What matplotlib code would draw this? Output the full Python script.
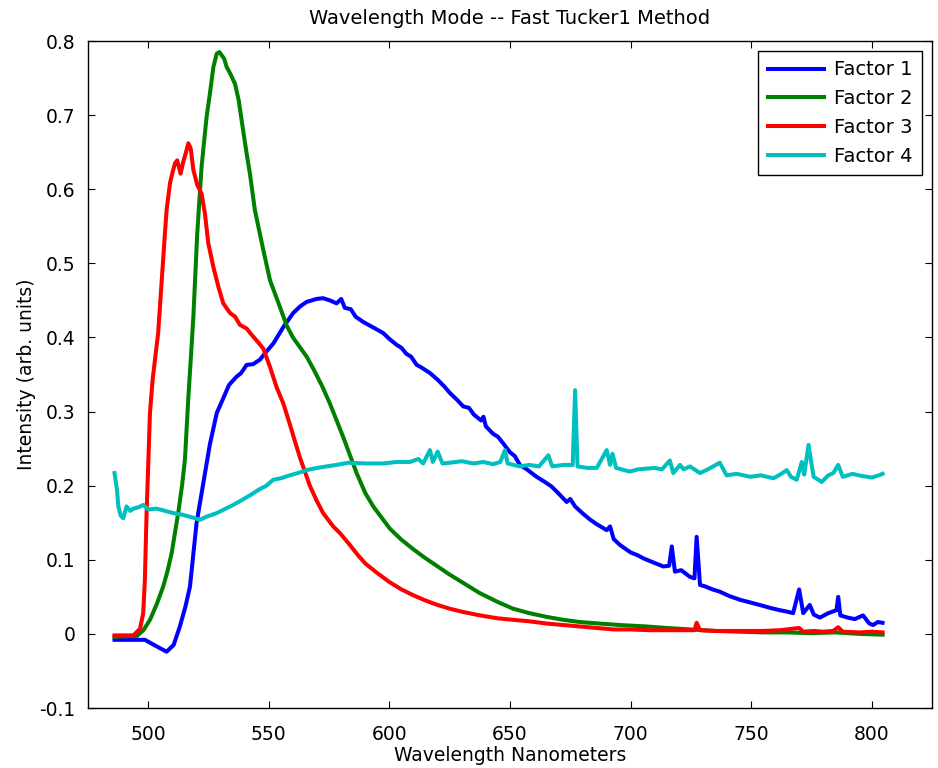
import matplotlib.pyplot as plt

plt.rcParams["font.family"] = ["DejaVu Sans"]

# Factor 1 (blue)
wl_f1 = [486.0, 493.0, 498.6, 503.0, 507.6, 510.5, 513.1, 515.5, 517.3, 520.0,
         522.8, 525.5, 528.4, 531.1, 533.5, 536.6, 538.5, 540.8, 543.5, 546.3,
         549.0, 551.9, 556.0, 560.1, 563.0, 565.7, 569.8, 572.5, 575.3, 578.1,
         580.0, 581.5, 584.0, 586.0, 589.1, 593.0, 597.4, 600.0, 603.0, 605.0,
         607.0, 609.0, 611.3, 613.0, 616.8, 620.0, 623.0, 625.1, 628.0, 630.6,
         633.0, 635.0, 638.0, 639.0, 640.0, 643.0, 645.0, 647.2, 650.0, 652.0,
         654.1, 657.0, 661.0, 664.0, 667.2, 670.0, 673.5, 675.0, 677.0, 680.0,
         683.3, 686.0, 690.1, 691.5, 693.0, 695.6, 700.0, 703.0, 705.3, 709.0,
         713.6, 716.0, 717.1, 718.4, 721.0, 724.6, 726.5, 727.4, 728.8, 731.0,
         734.0, 737.0, 741.0, 745.4, 749.0, 753.6, 758.0, 761.9, 765.0, 767.4,
         769.9, 771.6, 774.3, 776.0, 778.5, 782.0, 785.4, 786.1, 787.0, 790.0,
         793.0, 796.4, 799.0, 800.6, 802.5, 804.5]
int_f1 = [-0.008, -0.008, -0.008, -0.016, -0.024, -0.015, 0.010, 0.038, 0.064, 0.149,
          0.203, 0.255, 0.298, 0.318, 0.336, 0.347, 0.352, 0.363, 0.364, 0.370,
          0.381, 0.392, 0.414, 0.433, 0.442, 0.448, 0.452, 0.453, 0.450, 0.446,
          0.452, 0.440, 0.438, 0.428, 0.421, 0.414, 0.406, 0.398, 0.390, 0.386,
          0.378, 0.374, 0.363, 0.360, 0.352, 0.343, 0.333, 0.325, 0.316, 0.307,
          0.305, 0.296, 0.288, 0.293, 0.280, 0.270, 0.266, 0.257, 0.245, 0.240,
          0.228, 0.222, 0.212, 0.206, 0.199, 0.190, 0.178, 0.182, 0.172, 0.163,
          0.154, 0.148, 0.140, 0.145, 0.128, 0.120, 0.110, 0.106, 0.102, 0.097,
          0.091, 0.092, 0.118, 0.084, 0.086, 0.077, 0.075, 0.131, 0.066, 0.064,
          0.060, 0.057, 0.051, 0.046, 0.043, 0.039, 0.035, 0.032, 0.030, 0.028,
          0.060, 0.028, 0.039, 0.026, 0.022, 0.028, 0.032, 0.050, 0.025, 0.022,
          0.020, 0.025, 0.014, 0.012, 0.016, 0.015]

# Factor 2 (green)
wl_f2 = [486.0, 492.0, 495.2, 498.0, 500.7, 503.5, 506.2, 508.0, 509.7, 511.0,
         512.4, 514.0, 515.2, 516.6, 517.8, 518.7, 520.3, 522.1, 524.2, 525.6,
         527.0, 528.4, 529.5, 530.4, 531.5, 532.5, 534.0, 536.0, 537.5, 539.4,
         540.8, 542.2, 544.2, 547.7, 550.5, 554.6, 557.4, 560.0, 565.7, 568.4,
         572.0, 575.3, 580.8, 586.4, 590.0, 593.3, 600.2, 605.0, 610.0, 615.0,
         620.0, 625.0, 630.0, 637.5, 645.0, 651.3, 658.0, 665.2, 672.0, 679.0,
         687.0, 695.6, 706.6, 715.0, 725.0, 735.0, 745.0, 755.0, 765.0, 775.0,
         785.0, 795.0, 804.5]
int_f2 = [-0.004, -0.003, -0.003, 0.005, 0.019, 0.040, 0.064, 0.085, 0.109, 0.135,
          0.163, 0.200, 0.235, 0.318, 0.380, 0.428, 0.540, 0.630, 0.698, 0.730,
          0.765, 0.783, 0.785, 0.781, 0.776, 0.765, 0.756, 0.742, 0.720, 0.678,
          0.648, 0.620, 0.572, 0.518, 0.477, 0.441, 0.416, 0.400, 0.374, 0.358,
          0.335, 0.311, 0.266, 0.217, 0.190, 0.172, 0.142, 0.127, 0.114, 0.102,
          0.091, 0.080, 0.070, 0.055, 0.043, 0.034, 0.028, 0.023, 0.019, 0.016,
          0.014, 0.012, 0.010, 0.008, 0.006, 0.004, 0.003, 0.002, 0.002, 0.001,
          0.002, 0.000, -0.001]

# Factor 3 (red)
wl_f3 = [486.0, 490.0, 493.8, 496.6, 497.9, 498.6, 499.3, 500.0, 500.7, 501.8,
         504.1, 505.5, 506.9, 507.6, 509.0, 510.0, 511.1, 512.0, 513.4, 514.5,
         515.5, 516.6, 517.6, 518.7, 520.3, 522.1, 523.5, 524.9, 527.0, 529.1,
         531.1, 533.9, 536.0, 538.0, 540.8, 542.5, 544.9, 547.7, 550.5, 553.2,
         556.0, 558.5, 561.0, 563.0, 567.0, 569.8, 572.5, 576.7, 579.5, 583.6,
         587.0, 590.0, 595.0, 600.0, 605.0, 610.0, 615.0, 620.0, 625.0, 630.0,
         637.5, 645.0, 651.3, 658.0, 665.2, 672.0, 679.0, 686.0, 692.9, 700.0,
         708.0, 717.0, 726.5, 727.4, 728.8, 735.0, 745.0, 755.0, 762.0, 769.9,
         771.6, 776.0, 780.0, 784.0, 786.1, 788.0, 795.0, 800.0, 804.5]
int_f3 = [-0.002, -0.002, -0.002, 0.007, 0.028, 0.073, 0.163, 0.230, 0.298, 0.343,
          0.406, 0.473, 0.540, 0.572, 0.608, 0.622, 0.635, 0.639, 0.621, 0.637,
          0.648, 0.662, 0.655, 0.626, 0.606, 0.594, 0.567, 0.527, 0.495, 0.468,
          0.446, 0.433, 0.428, 0.417, 0.412, 0.405, 0.396, 0.385, 0.360, 0.333,
          0.311, 0.285, 0.258, 0.237, 0.200, 0.180, 0.163, 0.145, 0.136, 0.120,
          0.106, 0.095, 0.082, 0.070, 0.060, 0.052, 0.045, 0.039, 0.034, 0.030,
          0.025, 0.021, 0.019, 0.017, 0.014, 0.012, 0.010, 0.008, 0.006, 0.006,
          0.005, 0.005, 0.005, 0.015, 0.005, 0.004, 0.004, 0.004, 0.005, 0.008,
          0.003, 0.004, 0.003, 0.004, 0.009, 0.003, 0.002, 0.003, 0.002]

# Factor 4 (cyan)
wl_f4 = [486.0, 487.0, 487.6, 488.5, 489.6, 491.0, 492.5, 493.8, 496.0, 497.9,
         500.0, 503.5, 507.0, 510.4, 514.0, 517.3, 519.5, 521.5, 524.0, 528.4,
         531.5, 535.2, 538.5, 542.2, 546.0, 549.0, 551.8, 555.0, 558.7, 562.0,
         565.7, 570.0, 574.0, 578.0, 583.0, 590.0, 597.4, 603.0, 608.5, 612.0,
         614.0, 616.8, 618.0, 620.0, 622.0, 625.1, 630.0, 635.0, 638.9, 643.0,
         646.0, 647.9, 649.0, 654.1, 658.0, 662.0, 665.9, 667.5, 672.0, 676.0,
         677.0, 678.0, 682.0, 686.0, 690.1, 691.5, 692.5, 694.0, 699.7, 703.0,
         706.6, 710.0, 713.0, 716.3, 717.7, 720.5, 722.0, 724.6, 728.8, 732.0,
         737.0, 739.8, 744.0, 749.6, 754.0, 759.2, 762.0, 764.8, 766.5, 768.9,
         771.0, 772.0, 773.8, 775.9, 779.3, 782.0, 784.1, 786.1, 788.0, 792.0,
         796.0, 800.0, 803.0, 804.5]
int_f4 = [0.217, 0.195, 0.172, 0.160, 0.156, 0.172, 0.166, 0.169, 0.171, 0.174,
          0.168, 0.169, 0.166, 0.163, 0.161, 0.158, 0.156, 0.154, 0.158, 0.163,
          0.168, 0.174, 0.180, 0.187, 0.195, 0.200, 0.208, 0.210, 0.214, 0.217,
          0.221, 0.224, 0.226, 0.228, 0.231, 0.230, 0.230, 0.232, 0.232, 0.236,
          0.230, 0.248, 0.232, 0.246, 0.230, 0.231, 0.233, 0.230, 0.232, 0.229,
          0.232, 0.248, 0.230, 0.226, 0.228, 0.226, 0.241, 0.226, 0.228, 0.228,
          0.329, 0.226, 0.224, 0.224, 0.248, 0.228, 0.243, 0.224, 0.219, 0.222,
          0.223, 0.224, 0.222, 0.234, 0.217, 0.228, 0.222, 0.226, 0.217, 0.222,
          0.231, 0.214, 0.216, 0.212, 0.214, 0.210, 0.215, 0.221, 0.212, 0.208,
          0.232, 0.215, 0.255, 0.212, 0.205, 0.214, 0.217, 0.228, 0.212, 0.216,
          0.213, 0.211, 0.214, 0.216]

x_ticks = [500, 550, 600, 650, 700, 750, 800]
y_ticks = [-0.1, 0, 0.1, 0.2, 0.3, 0.4, 0.5, 0.6, 0.7, 0.8]
y_labels = ["-0.1", "0", "0.1", "0.2", "0.3", "0.4", "0.5", "0.6", "0.7", "0.8"]

fig = plt.figure(figsize=(9.38, 7.68), dpi=100)
ax = fig.add_axes([0.0938, 0.0781, 0.8998, 0.8685])

lw = 2.9
ax.plot(wl_f1, int_f1, color=(0, 0, 1), lw=lw, label="Factor 1")
ax.plot(wl_f2, int_f2, color=(0, 0.5, 0), lw=lw, label="Factor 2")
ax.plot(wl_f3, int_f3, color=(1, 0, 0), lw=lw, label="Factor 3")
ax.plot(wl_f4, int_f4, color=(0, 0.75, 0.75), lw=lw, label="Factor 4")

ax.set_xlim(475, 825)
ax.set_ylim(-0.1, 0.8)
ax.set_xticks(x_ticks)
ax.set_yticks(y_ticks)
ax.set_yticklabels(y_labels)
ax.tick_params(direction="in", top=True, right=True, length=5, width=0.8,
               labelsize=13.5)
ax.tick_params(axis="x", pad=12)
ax.tick_params(axis="y", pad=9)
for sp in ax.spines.values():
    sp.set_linewidth(1.0)

ax.set_title("Wavelength Mode -- Fast Tucker1 Method", fontsize=14, pad=12)
ax.set_xlabel("Wavelength Nanometers", fontsize=13.5, labelpad=2)
ax.set_ylabel("Intensity (arb. units)", fontsize=13.5, labelpad=2)

leg = ax.legend(loc="upper right", fontsize=14, fancybox=False,
                framealpha=1, edgecolor="black", handlelength=2.9,
                borderaxespad=0.5, labelspacing=0.5, handletextpad=0.5,
                borderpad=0.5)
leg.get_frame().set_linewidth(1.0)

fig.savefig("out.png", dpi=100)
